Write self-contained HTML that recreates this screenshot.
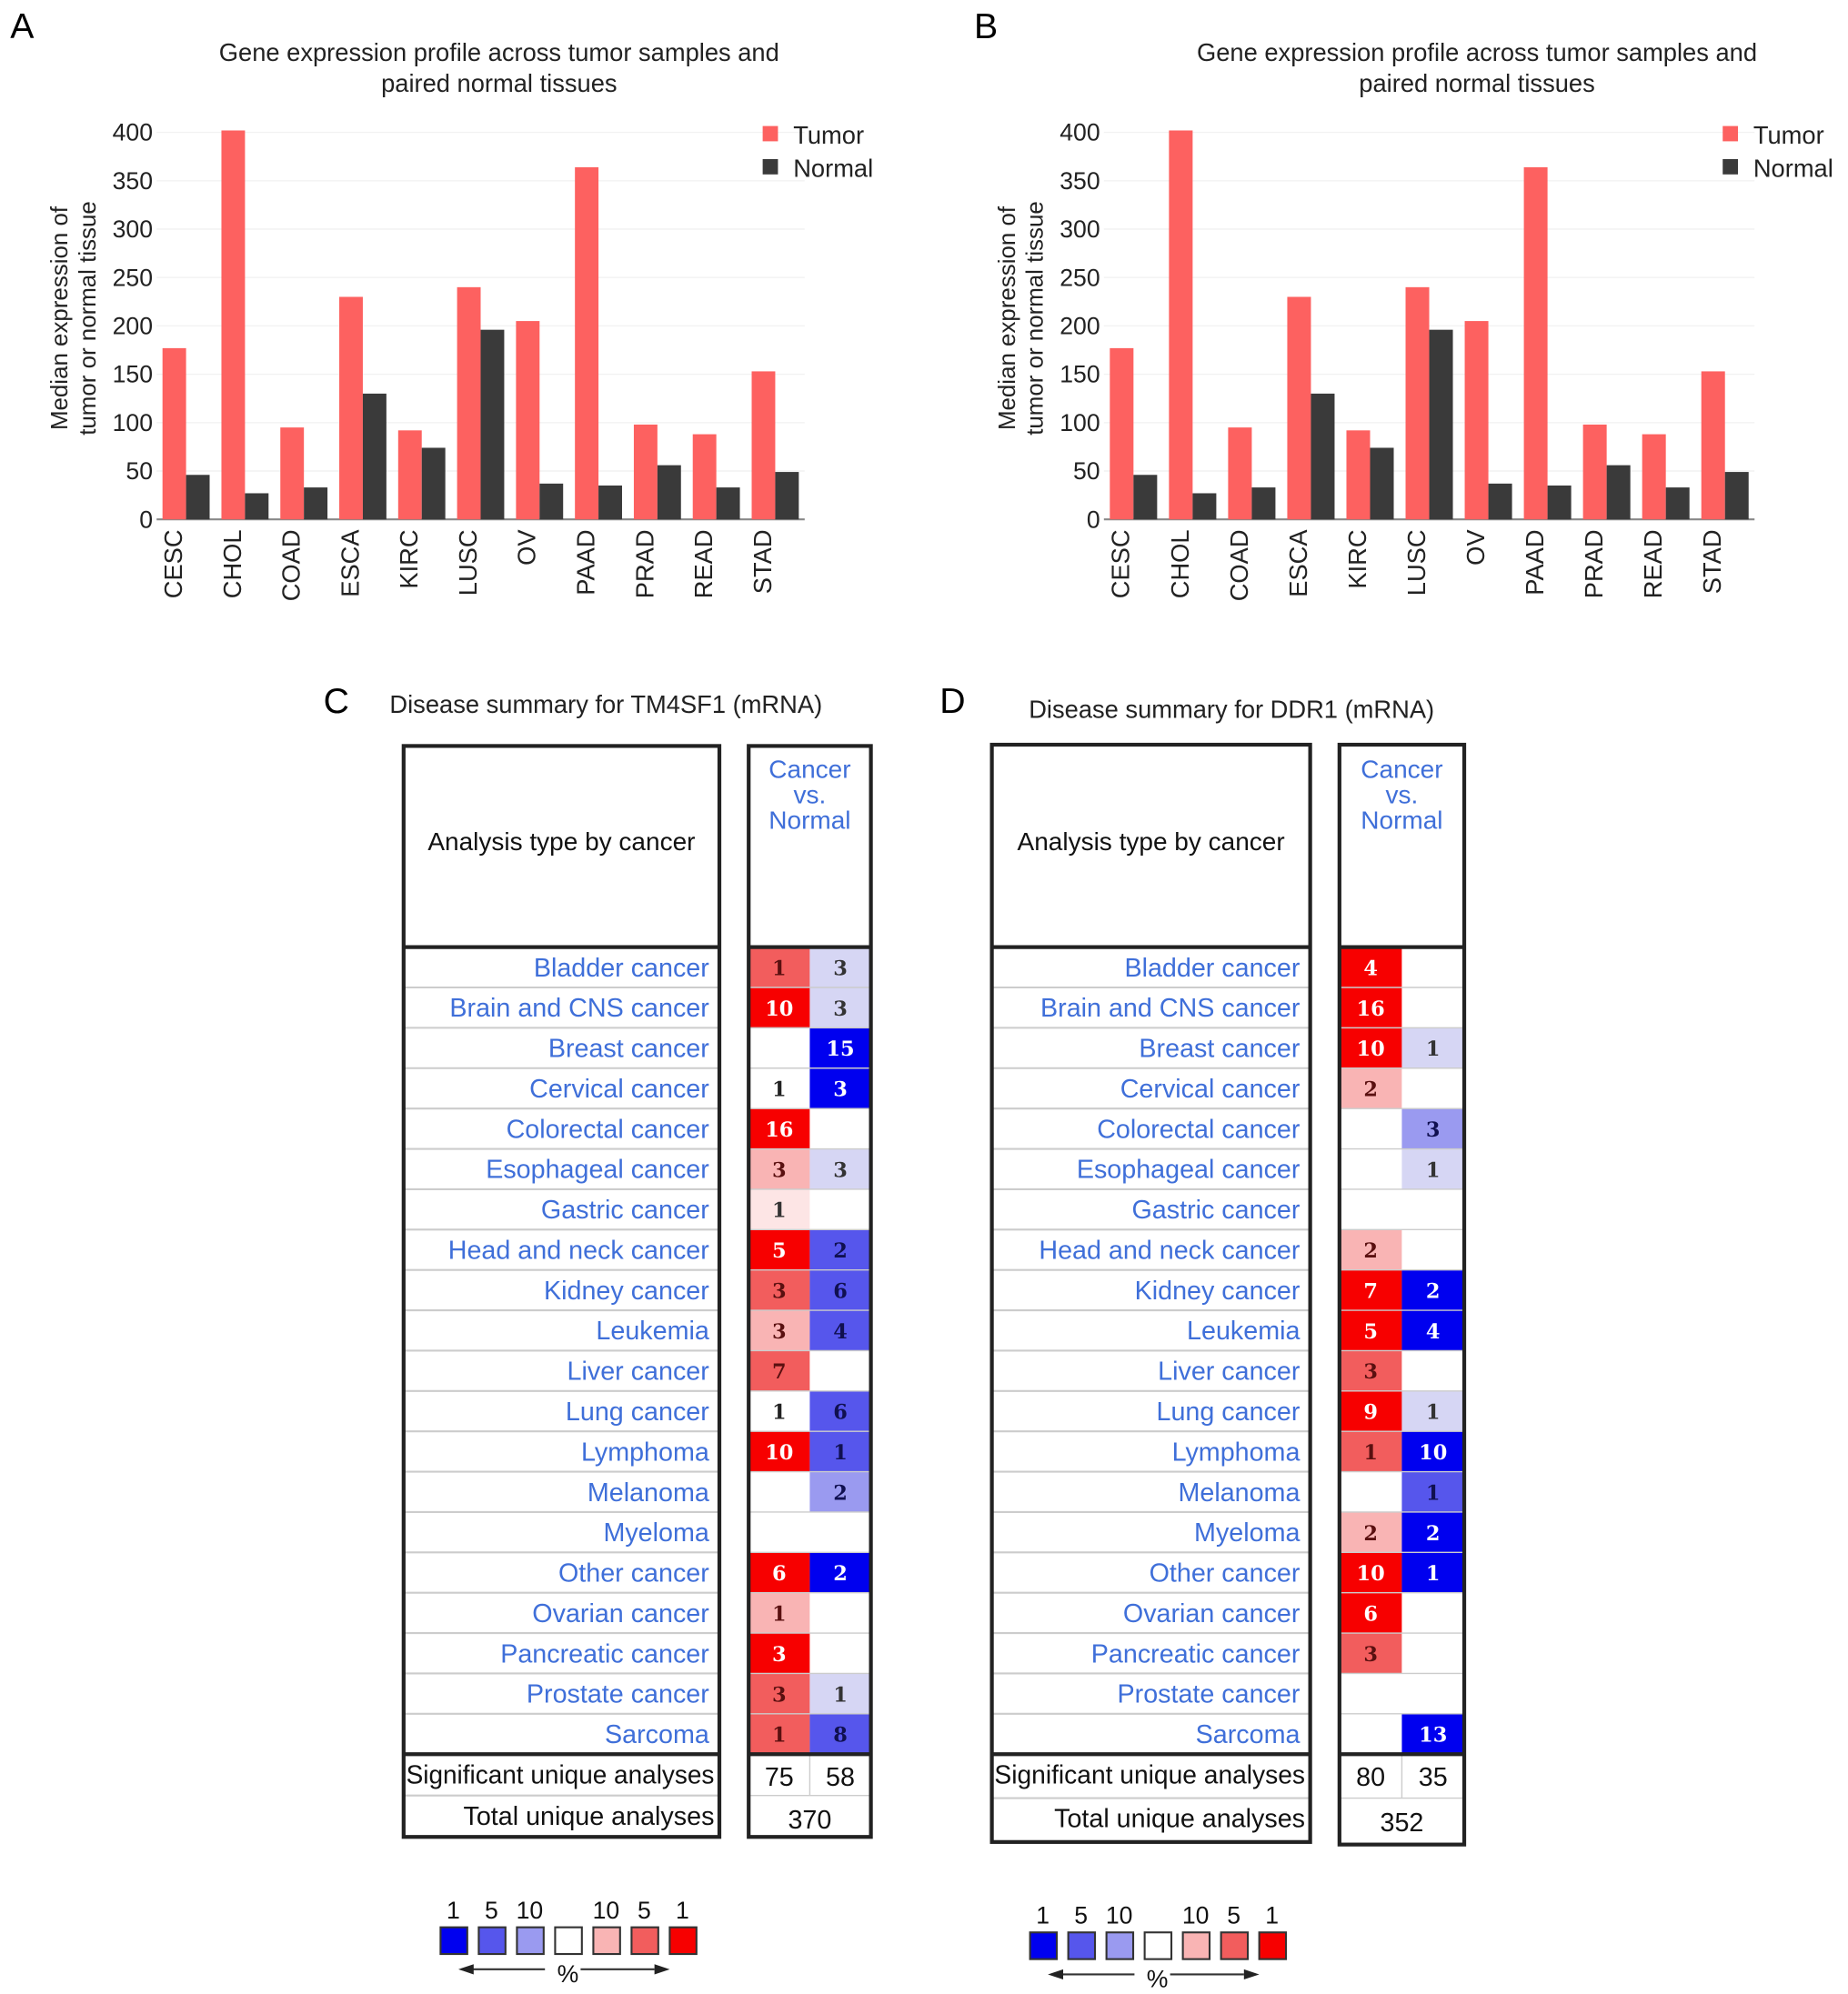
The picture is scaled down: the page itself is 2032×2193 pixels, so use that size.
<!DOCTYPE html>
<html><head><meta charset="utf-8">
<style>
html,body{margin:0;padding:0;background:#fff;}
svg{display:block;font-family:"Liberation Sans",sans-serif;}
</style></head>
<body>
<svg id="fig" width="2032" height="2193" viewBox="0 0 1451.4 1566.4" xmlns="http://www.w3.org/2000/svg">
<rect width="1451.4" height="1566.4" fill="#fff"/>
</svg>
<script>
// ---- Chart data ----
const categories = ["CESC","CHOL","COAD","ESCA","KIRC","LUSC","OV","PAAD","PRAD","READ","STAD"];
const tumorA = [177,402,95,230,92,240,205,364,98,88,153];
const normalA = [46,27,33,130,74,196,37,35,56,33,49];
const tumorB = [177,402,95,230,92,240,205,364,98,88,153];
const normalB = [46,27,33,130,74,196,37,35,56,33,49];
const yTicks = [0,50,100,150,200,250,300,350,400];

// ---- Table data ----
const cancers = ["Bladder cancer","Brain and CNS cancer","Breast cancer","Cervical cancer","Colorectal cancer","Esophageal cancer","Gastric cancer","Head and neck cancer","Kidney cancer","Leukemia","Liver cancer","Lung cancer","Lymphoma","Melanoma","Myeloma","Other cancer","Ovarian cancer","Pancreatic cancer","Prostate cancer","Sarcoma"];
const cUpVal = ["1","10","","1","16","3","1","5","3","3","7","1","10","","","6","1","3","3","1"];
const cUpLvl = [2,1,0,0,1,3,4,1,2,3,2,0,1,0,0,1,3,1,2,2];
const cDnVal = ["3","3","15","3","","3","","2","6","4","","6","1","2","","2","","","1","8"];
const cDnLvl = [4,4,1,1,0,4,0,2,2,2,0,2,2,3,0,1,0,0,4,2];
const dUpVal = ["4","16","10","2","","","","2","7","5","3","9","1","","2","10","6","3","",""];
const dUpLvl = [1,1,1,3,0,0,0,3,1,1,2,1,2,0,3,1,1,2,0,0];
const dDnVal = ["","","1","","3","1","","","2","4","","1","10","1","2","1","","","","13"];
const dDnLvl = [0,0,4,0,3,4,0,0,1,1,0,4,1,2,1,1,0,0,0,1];
const cSig = ["75","58"], cTotal = "370";
const dSig = ["80","35"], dTotal = "352";

const NS = "http://www.w3.org/2000/svg";
const svg = document.getElementById("fig");
function el(tag, attrs, parent, text){
  const e = document.createElementNS(NS, tag);
  for (const k in attrs) e.setAttribute(k, attrs[k]);
  if (text !== undefined) e.textContent = text;
  (parent||svg).appendChild(e);
  return e;
}

function barChart(id, ox, right, tumor, normal, letter, letterX, legX, titleX){
  const g = el("g", {});
  
  
  const y0 = 408, y400 = 104;
  const y = v => y0 - (v / 400) * (y0 - y400);
  const groupW = (right - ox) / categories.length;
  const bw = groupW * 0.4;
  const lt = el("text", {x: letterX, y: 30, "font-size": 28}, g, letter);
  
  
  const t1 = el("text", {x: titleX, y: 48, "font-size": 19.5, "text-anchor": "middle", fill: "#222"}, g, "Gene expression profile across tumor samples and");
  
  
  const t2 = el("text", {x: titleX, y: 72, "font-size": 19.5, "text-anchor": "middle", fill: "#222"}, g, "paired normal tissues");
  
  
  yTicks.forEach(v => {
    if (v > 0) {
      const gl = el("line", {x1: ox, x2: right, y1: y(v), y2: y(v), stroke: "#f2f2f2", "stroke-width": 1}, g);
      
      
    }
    const tl = el("text", {x: ox - 3, y: y(v) + 6.5, "font-size": 19, "text-anchor": "end", fill: "#222"}, g, String(v));
    
    
  });
  const ax = el("line", {x1: ox, x2: right, y1: y0, y2: y0, stroke: "#888", "stroke-width": 1.5}, g);
  
  
  categories.forEach((c, i) => {
    const gx = ox + i * groupW + groupW * 0.1;
    const bt = el("rect", {x: gx, y: y(tumor[i]), width: bw, height: y0 - y(tumor[i]), fill: "#fd6160"}, g);
    
    
    const bn = el("rect", {x: gx + bw, y: y(normal[i]), width: bw, height: y0 - y(normal[i]), fill: "#3a3a3a"}, g);
    
    
    const cx = gx + bw / 2 + 6;
    const xl = el("text", {x: 0, y: 0, "font-size": 19.5, "text-anchor": "end", fill: "#222", transform: "translate(" + cx + "," + 416 + ") rotate(-90)"}, g, c);
    
    
  });
  const yt = el("text", {x: 0, y: 0, "font-size": 18.5, "text-anchor": "middle", fill: "#222", transform: "translate(" + (ox - 70) + ",250) rotate(-90)"}, g, "Median expression of");
  
  
  const yt2 = el("text", {x: 0, y: 0, "font-size": 18.5, "text-anchor": "middle", fill: "#222", transform: "translate(" + (ox - 48) + ",250) rotate(-90)"}, g, "tumor or normal tissue");
  
  
  [["Tumor", "#fd6160", 106], ["Normal", "#3a3a3a", 132]].forEach(([n, col, ly]) => {
    const lg = el("g", {}, g);
    
    
    el("rect", {x: legX, y: ly - 7, width: 12, height: 12, fill: col}, lg);
    el("text", {x: legX + 24, y: ly + 7, "font-size": 19.5, fill: "#222"}, lg, n);
  });
}
barChart("a", 123, 632, tumorA, normalA, "A", 8, 599, 392);
barChart("b", 867, 1378, tumorB, normalB, "B", 765, 1353, 1160);

const redC = ["#fff", "#f70000", "#f25d5d", "#f9b4b4", "#fde5e5"];
const blueC = ["#fff", "#0000ef", "#5656ec", "#9a9af0", "#d6d6f4"];
const txtUp = ["#222", "#fff", "#5a1010", "#5a1010", "#333"];
const txtDn = ["#222", "#fff", "#101050", "#101050", "#333"];

function table(id, L, Lr, R, Rr, top, bot, rbot, upV, upL, dnV, dnL, sig, total, letter, letterX, title, titleX, titleY){
  const g = el("g", {});
  
  
  const lt = el("text", {x: letterX, y: 560, "font-size": 28}, g, letter);
  
  
  const tt = el("text", {x: titleX, y: titleY, "font-size": 19.5, fill: "#222"}, g, title);
  
  
  const hb = 744, rh = 31.7;
  const sigTop = hb + rh * cancers.length;
  const totTop = sigTop + (bot - sigTop) / 2;
  const mid = (R + Rr) / 2;
  cancers.forEach((c, i) => {
    const ry = hb + i * rh;
    const r1 = el("rect", {x: R, y: ry, width: mid - R, height: rh, fill: redC[upL[i]]}, g);
    
    
    const r2 = el("rect", {x: mid, y: ry, width: Rr - mid, height: rh, fill: blueC[dnL[i]]}, g);
    
    
    if (i > 0) {
      el("line", {x1: L, x2: Lr, y1: ry, y2: ry, stroke: "#ccc", "stroke-width": 1.5}, g);
      el("line", {x1: R, x2: Rr, y1: ry, y2: ry, stroke: "#ccc", "stroke-width": 1}, g);
    }
    const lb = el("text", {x: Lr - 8, y: ry + 23, "font-size": 20.5, "text-anchor": "end", fill: "#3f6fd9"}, g, c);
    
    
    if (upV[i]) { const t = el("text", {x: (R + mid) / 2, y: ry + 22, "font-size": 16, "font-weight": "bold", "font-family": "DejaVu Serif, serif", "text-anchor": "middle", fill: txtUp[upL[i]]}, g, upV[i]);
        }
    if (dnV[i]) { const t = el("text", {x: (mid + Rr) / 2, y: ry + 22, "font-size": 16, "font-weight": "bold", "font-family": "DejaVu Serif, serif", "text-anchor": "middle", fill: txtDn[dnL[i]]}, g, dnV[i]);
        }
  });
  el("line", {x1: mid, x2: mid, y1: sigTop, y2: totTop, stroke: "#ccc", "stroke-width": 1}, g);
  el("line", {x1: L, x2: Lr, y1: totTop, y2: totTop, stroke: "#ccc", "stroke-width": 1.5}, g);
  el("line", {x1: R, x2: Rr, y1: totTop, y2: totTop, stroke: "#ccc", "stroke-width": 1}, g);
  const s1 = el("text", {x: Lr - 4, y: sigTop + 23, "font-size": 20.5, "text-anchor": "end", fill: "#111", textLength: Lr - L - 6, lengthAdjust: "spacingAndGlyphs"}, g, "Significant unique analyses");
   
  const s2 = el("text", {x: Lr - 4, y: totTop + 23, "font-size": 20.5, "text-anchor": "end", fill: "#111"}, g, "Total unique analyses");
   
  const v1 = el("text", {x: (R + mid) / 2, y: sigTop + 25, "font-size": 20.5, "text-anchor": "middle", fill: "#111"}, g, sig[0]);
   
  const v2 = el("text", {x: (mid + Rr) / 2, y: sigTop + 25, "font-size": 20.5, "text-anchor": "middle", fill: "#111"}, g, sig[1]);
   
  const v3 = el("text", {x: mid, y: totTop + 26, "font-size": 20.5, "text-anchor": "middle", fill: "#111"}, g, total);
   
  const h = el("text", {x: (L + Lr) / 2, y: 668, "font-size": 20, "text-anchor": "middle", fill: "#111"}, g, "Analysis type by cancer");
   
  ["Cancer", "vs.", "Normal"].forEach((w, k) => {
    const ht = el("text", {x: mid, y: 611 + k * 20, "font-size": 20, "text-anchor": "middle", fill: "#3f6fd9"}, g, w);
     
  });
  el("rect", {x: L, y: top, width: Lr - L, height: bot - top, fill: "none", stroke: "#222", "stroke-width": 3}, g);
  el("rect", {x: R, y: top, width: Rr - R, height: rbot - top, fill: "none", stroke: "#222", "stroke-width": 3}, g);
  el("line", {x1: L, x2: Lr, y1: hb, y2: hb, stroke: "#222", "stroke-width": 3}, g);
  el("line", {x1: R, x2: Rr, y1: hb, y2: hb, stroke: "#222", "stroke-width": 3}, g);
  el("line", {x1: L, x2: Lr, y1: sigTop, y2: sigTop, stroke: "#222", "stroke-width": 3}, g);
  el("line", {x1: R, x2: Rr, y1: sigTop, y2: sigTop, stroke: "#222", "stroke-width": 3}, g);
}
table("c", 317, 565, 588, 684, 586, 1443, 1443, cUpVal, cUpLvl, cDnVal, cDnLvl, cSig, cTotal, "C", 254, "Disease summary for TM4SF1 (mRNA)", 306, 560);
table("d", 779, 1029, 1052, 1150, 585, 1447, 1449, dUpVal, dUpLvl, dDnVal, dDnLvl, dSig, dTotal, "D", 738, "Disease summary for DDR1 (mRNA)", 808, 564);

const legendLabels = ["1", "5", "10", "", "10", "5", "1"];
const legendColors = ["#0000ef", "#5656ec", "#9a9af0", "#fff", "#f9b4b4", "#f25d5d", "#f70000"];
function colorLegend(id, x0, y0){
  const g = el("g", {});
  
  
  legendColors.forEach((c, i) => {
    const x = x0 + i * 30;
    const r = el("rect", {x: x, y: y0, width: 21, height: 21, fill: c, stroke: "#333", "stroke-width": 1.5}, g);
    
    
    if (legendLabels[i]) el("text", {x: x + 10, y: y0 - 7, "font-size": 19, "text-anchor": "middle", fill: "#111"}, g, legendLabels[i]);
  });
  el("line", {x1: x0 + 24, x2: x0 + 82, y1: y0 + 33, y2: y0 + 33, stroke: "#333", "stroke-width": 1.5}, g);
  el("polygon", {points: (x0 + 14) + "," + (y0 + 33) + " " + (x0 + 26) + "," + (y0 + 29) + " " + (x0 + 26) + "," + (y0 + 37), fill: "#222"}, g);
  el("line", {x1: x0 + 110, x2: x0 + 168, y1: y0 + 33, y2: y0 + 33, stroke: "#333", "stroke-width": 1.5}, g);
  el("polygon", {points: (x0 + 180) + "," + (y0 + 33) + " " + (x0 + 168) + "," + (y0 + 29) + " " + (x0 + 168) + "," + (y0 + 37), fill: "#222"}, g);
  el("text", {x: x0 + 100, y: y0 + 43, "font-size": 19, "text-anchor": "middle", fill: "#111"}, g, "%");
}
colorLegend("c", 346, 1514);
colorLegend("d", 809, 1518);
</script>
</body></html>
